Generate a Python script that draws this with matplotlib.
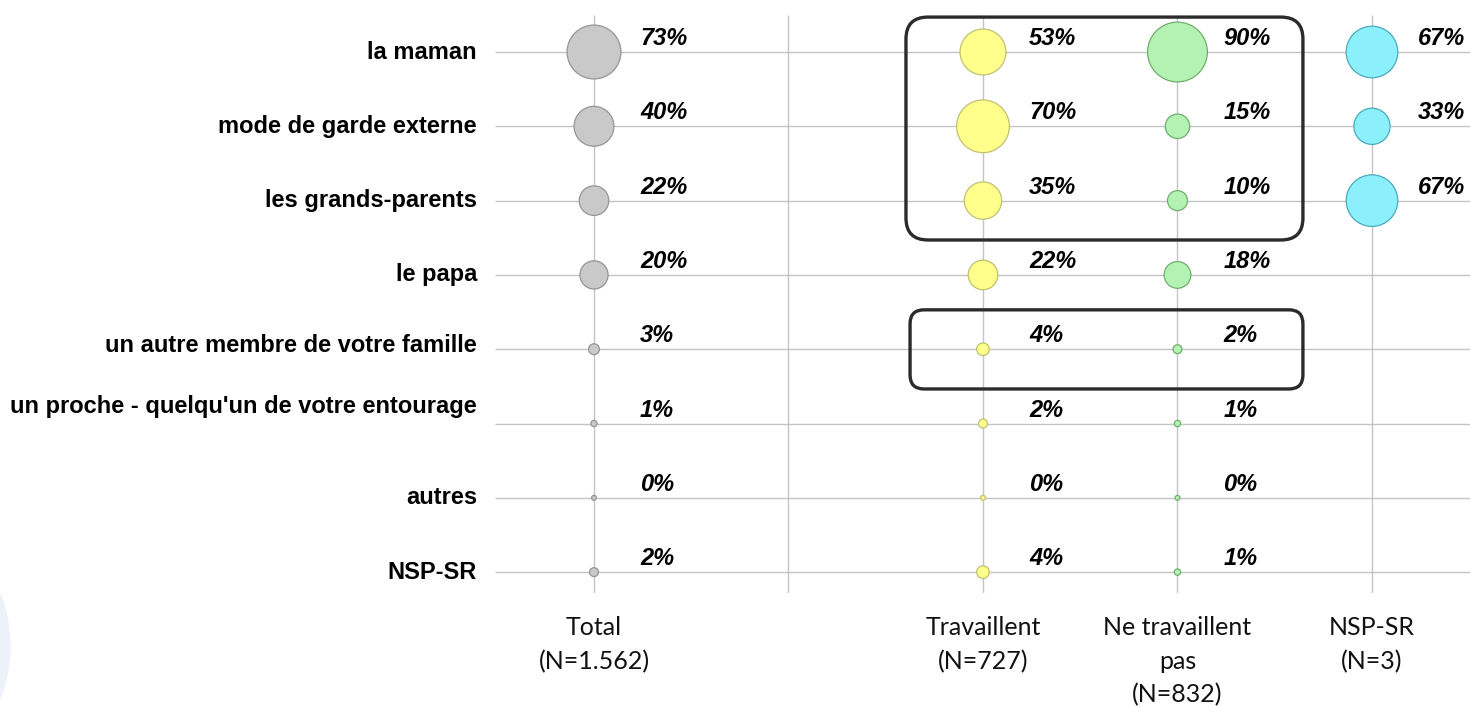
import numpy as np
import matplotlib
matplotlib.use("Agg")
import matplotlib.pyplot as plt
from matplotlib.patches import FancyBboxPatch, Ellipse
from matplotlib.transforms import IdentityTransform, blended_transform_factory

# ---- data ----
categories = ["la maman", "mode de garde externe", "les grands-parents", "le papa",
              "un autre membre de votre famille", "un proche - quelqu'un de votre entourage",
              "autres", "NSP-SR"]
total = [73, 40, 22, 20, 3, 1, 0, 2]
travaillent = [53, 70, 35, 22, 4, 2, 0, 4]
ne_travaillent = [90, 15, 10, 18, 2, 1, 0, 1]
nsp_sr = [67, 33, 67, None, None, None, None, None]

column_labels = ["Total\n(N=1.562)", "", "Travaillent\n(N=727)",
                 "Ne travaillent\npas\n(N=832)", "NSP-SR\n(N=3)"]

series = [
    (0, total, "#c9c9c9", "#959595"),
    (2, travaillent, "#ffff8c", "#c0c070"),
    (3, ne_travaillent, "#b4f2b4", "#6fae6f"),
    (4, nsp_sr, "#8cf0fc", "#4aaabb"),
]

W, H = 1470, 706
fig = plt.figure(figsize=(W / 100, H / 100), dpi=100)
fig.patch.set_facecolor("white")

left_px, right_px, top_px, bottom_px = 495, 1470, 15, 593
ax = fig.add_axes([left_px / W, 1 - bottom_px / H, (right_px - left_px) / W, (bottom_px - top_px) / H])
ax.set_xlim(-0.509, 4.504)
ax.set_ylim(7.281, -0.498)
ax.axis("off")

rows = np.arange(len(categories))
cols = np.arange(len(column_labels))

# grid
ax.hlines(rows, -0.509, 4.504, color="#c4c4c4", lw=1.0, zorder=1)
ax.vlines(cols, -0.498, 7.281, color="#c4c4c4", lw=1.0, zorder=1)

# bubbles
for x, vals, fc, ec in series:
    ys = [r for r, v in zip(rows, vals) if v is not None]
    vs = [v for v in vals if v is not None]
    sizes = [max(20.6 * v, 12) for v in vs]
    ax.scatter([x] * len(ys), ys, s=sizes, c=fc, edgecolors=ec, linewidths=0.9, zorder=3)
    for r, v in zip(ys, vs):
        ax.annotate(f"{v}%", (x, r), xytext=(46, 7), textcoords="offset pixels",
                    ha="left", va="baseline", fontsize=17, fontweight="bold",
                    fontstyle="italic", family="Liberation Sans", color="black", zorder=4)

# category labels
label_shift = [0, 0, 0, 0, 0.05, 0.23, 0, 0]
for r, lab, sh in zip(rows, categories, label_shift):
    ax.annotate(lab, (-0.509, r - sh), xytext=(-18, 0), textcoords="offset pixels",
                ha="right", va="center", fontsize=17, fontweight="bold",
                family="Liberation Sans", color="black", annotation_clip=False)

# column labels
trans = blended_transform_factory(ax.transData, ax.transAxes)
for c, lab in zip(cols, column_labels):
    if lab:
        ax.text(c, -0.04, lab, transform=trans, ha="center", va="top", fontsize=18,
                family="Lato", color="#111111", linespacing=1.55, multialignment="center")

# highlight boxes (defined in data coordinates)
boxes = [((1.604, -0.47), (3.645, 2.53), 22), ((1.625, 3.47), (3.645, 4.535), 14)]
fig.canvas.draw()
for (x0, y0), (x1, y1), rad in boxes:
    (px0, py0) = ax.transData.transform((x0, y1))
    (px1, py1) = ax.transData.transform((x1, y0))
    p = FancyBboxPatch((px0, py0), px1 - px0, py1 - py0,
                       boxstyle=f"round,pad=0,rounding_size={rad}",
                       transform=IdentityTransform(), fill=False, ec="#2b2b2b",
                       lw=2.4, zorder=5, clip_on=False)
    fig.add_artist(p)

# faint decorative shape at bottom-left
fig.add_artist(Ellipse((-150, 60), 320, 300, transform=IdentityTransform(),
                       color="#edf1fa", zorder=0))

fig.savefig("out.png", dpi=100, facecolor="white")
